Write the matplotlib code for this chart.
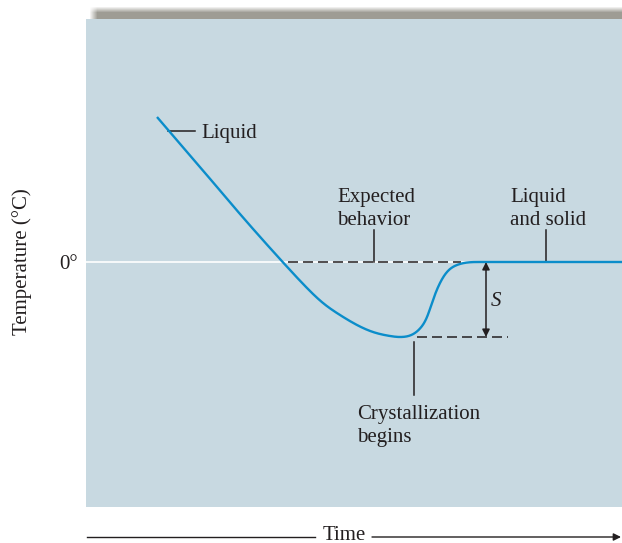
import numpy as np
import matplotlib
matplotlib.use("Agg")
import matplotlib.pyplot as plt

plt.rcParams["font.family"] = ["Liberation Serif", "DejaVu Serif"]
plt.rcParams["lines.scale_dashes"] = False

# Cooling curve of water with supercooling (time and temperature in arbitrary units)
# falling branch: liquid cooling down to the deepest supercooling
fall_time = [2.84, 4.56, 6.16, 7.36, 8.16, 8.84, 9.48, 10.16, 10.84, 11.48, 12.16, 12.56]
fall_temp = [5.80, 3.80, 1.92, 0.56, -0.32, -1.04, -1.64, -2.12, -2.52, -2.80, -2.96, -3.00]
# rising branch: crystallization releases heat back up to the freezing point
rise_time = [12.56, 12.96, 13.36, 13.64, 13.88, 14.16, 14.44, 14.84, 15.36, 15.76]
rise_temp = [-3.00, -2.94, -2.66, -2.20, -1.52, -0.84, -0.40, -0.12, -0.01, 0.00]
# plateau: liquid and solid together
flat_time = [15.76, 21.44]
flat_temp = [0.00, 0.00]

freezing_point = 0.0
supercool_min = -3.0
expected_span = [8.08, 15.0]        # dashed "expected behavior" line
crystal_span = [13.24, 16.88]       # dashed line at the temperature minimum
tick_labels = ["0°"]

PANEL = "#c8d9e1"
CURVE = "#0b8dca"
INK = "#231f20"
FS = 15


def clamped_spline(x, y, fp0, fpn, n=400):
    """Cubic spline through the points with given end slopes."""
    x = np.asarray(x, float)
    y = np.asarray(y, float)
    m = len(x)
    h = np.diff(x)
    A = np.zeros((m, m))
    b = np.zeros(m)
    A[0, 0], A[0, 1] = 2 * h[0], h[0]
    b[0] = 6 * ((y[1] - y[0]) / h[0] - fp0)
    A[-1, -2], A[-1, -1] = h[-1], 2 * h[-1]
    b[-1] = 6 * (fpn - (y[-1] - y[-2]) / h[-1])
    for i in range(1, m - 1):
        A[i, i - 1] = h[i - 1]
        A[i, i] = 2 * (h[i - 1] + h[i])
        A[i, i + 1] = h[i]
        b[i] = 6 * ((y[i + 1] - y[i]) / h[i] - (y[i] - y[i - 1]) / h[i - 1])
    M = np.linalg.solve(A, b)
    xq = np.linspace(x[0], x[-1], n)
    i = np.clip(np.searchsorted(x, xq) - 1, 0, m - 2)
    hi = h[i]
    a = x[i + 1] - xq
    c = xq - x[i]
    yq = (M[i] * a**3 / (6 * hi) + M[i + 1] * c**3 / (6 * hi)
          + (y[i] / hi - M[i] * hi / 6) * a + (y[i + 1] / hi - M[i + 1] * hi / 6) * c)
    return xq, yq


fig = plt.figure(figsize=(6.22, 5.43), dpi=100)
W, H = 622, 543

# soft grey shadow strip above the panel
sh_h, sh_w = 15, W - 88
shadow = np.zeros((sh_h, sh_w, 4))
shadow[..., 0] = 158 / 255
shadow[..., 1] = 156 / 255
shadow[..., 2] = 148 / 255
rows = np.clip((np.arange(sh_h) - 2) / 6.0, 0, 1)
cols = np.clip((np.arange(sh_w) - 1) / 8.0, 0, 1)
shadow[..., 3] = np.outer(rows, cols)
fig.figimage(shadow, xo=88, yo=H - 19, origin="upper")

ax = fig.add_axes([86 / W, 36 / H, 536 / W, 488 / H])
ax.set_facecolor(PANEL)
for s in ax.spines.values():
    s.set_visible(False)
ax.set_xlim(0, 21.44)
ax.set_ylim(-9.8, 9.72)
ax.set_xticks([])
ax.set_yticks([freezing_point])
ax.set_yticklabels(tick_labels)
ax.tick_params(axis="y", length=0, pad=6, labelsize=FS, labelcolor=INK)

# freezing-point reference line
ax.axhline(freezing_point, color="white", lw=1.2, zorder=1)

# dashed guide lines
dash = (0, (7.2, 3.6))
ax.plot(expected_span, [freezing_point] * 2, color=INK, lw=1.1, ls=dash, zorder=2)
ax.plot(crystal_span, [supercool_min] * 2, color=INK, lw=1.1, ls=dash, zorder=2)

# cooling curve, drawn as smooth branches joined with zero slope
start_slope = (fall_temp[1] - fall_temp[0]) / (fall_time[1] - fall_time[0])
x1, y1 = clamped_spline(fall_time, fall_temp, start_slope, 0.0)
x2, y2 = clamped_spline(rise_time, rise_temp, 0.0, 0.0)
y2 = np.minimum(y2, freezing_point)
xx = np.concatenate([x1, x2[1:], flat_time[1:]])
yy = np.concatenate([y1, y2[1:], flat_temp[1:]])
ax.plot(xx, yy, color=CURVE, lw=1.7, solid_capstyle="butt", zorder=3)

# callout leaders
lead = dict(color=INK, lw=1.1, zorder=2)
ax.plot([3.28, 4.36], [5.24, 5.24], **lead)
ax.plot([11.52, 11.52], [1.28, freezing_point], **lead)
ax.plot([18.4, 18.4], [1.28, freezing_point], **lead)
ax.plot([13.12, 13.12], [-3.2, -5.32], **lead)

txt = dict(color=INK, fontsize=FS, ha="left", va="baseline")
ax.text(4.63, 4.97, "Liquid", **txt)
ax.text(10.04, 2.40, "Expected", **txt)
ax.text(10.04, 1.48, "behavior", **txt)
ax.text(16.96, 2.40, "Liquid", **txt)
ax.text(16.96, 1.48, "and solid", **txt)
ax.text(10.84, -6.28, "Crystallization", **txt)
ax.text(10.84, -7.20, "begins", **txt)

# supercooling depth S
ax.annotate("", xy=(16.0, supercool_min), xytext=(16.0, freezing_point),
            arrowprops=dict(arrowstyle="<|-|>", color=INK, lw=1.1,
                            mutation_scale=11, shrinkA=0, shrinkB=0))
ax.text(16.2, -1.6, "S", color=INK, fontsize=FS, style="italic",
        ha="left", va="center")

# figure-level annotations in pixel coordinates
ov = fig.add_axes([0, 0, 1, 1], facecolor="none")
ov.set_xlim(0, W)
ov.set_ylim(H, 0)
ov.axis("off")
ov.text(22.5, 262, "Temperature (°C)", rotation=90, color=INK, fontsize=FS,
        ha="center", va="center")
ov.plot([87, 315], [537, 537], color=INK, lw=1.0)
ov.text(344, 539.5, "Time", color=INK, fontsize=FS, ha="center", va="baseline")
ov.annotate("", xy=(621, 537), xytext=(372, 537),
            arrowprops=dict(arrowstyle="-|>", color=INK, lw=1.0,
                            mutation_scale=11, shrinkA=0, shrinkB=0))

fig.savefig("out.png", dpi=100)
